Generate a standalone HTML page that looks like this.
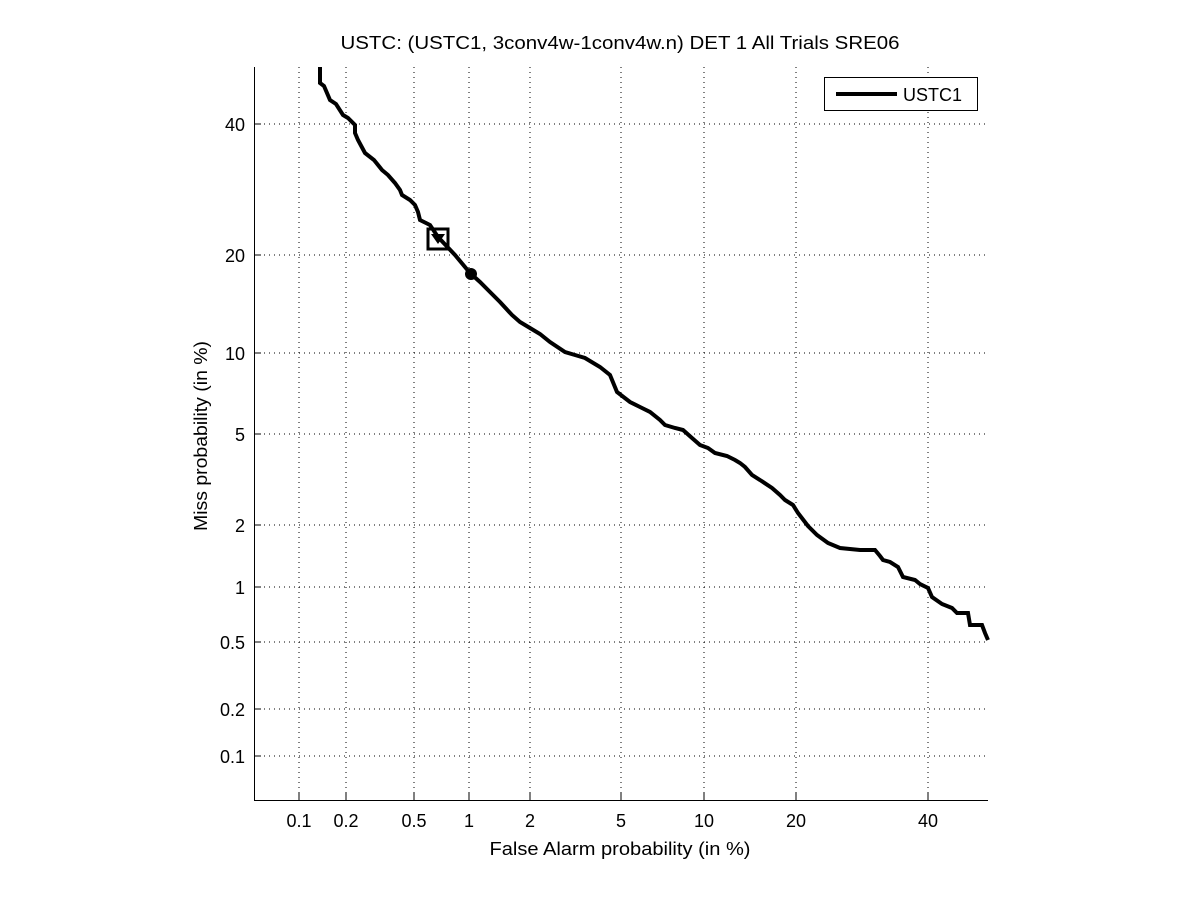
<!DOCTYPE html>
<html><head><meta charset="utf-8"><style>body{margin:0;background:#fff}svg{display:block}</style></head><body>
<svg width="1201" height="900" xmlns="http://www.w3.org/2000/svg" font-family="Liberation Sans, sans-serif">
<rect width="1201" height="900" fill="#fff"/>
<g stroke="#000" stroke-width="1" stroke-dasharray="1,4">
<line x1="299" y1="67" x2="299" y2="801"/><line x1="346" y1="67" x2="346" y2="801"/><line x1="414" y1="67" x2="414" y2="801"/><line x1="469" y1="67" x2="469" y2="801"/><line x1="530" y1="67" x2="530" y2="801"/><line x1="621" y1="67" x2="621" y2="801"/><line x1="704" y1="67" x2="704" y2="801"/><line x1="796" y1="67" x2="796" y2="801"/><line x1="928" y1="67" x2="928" y2="801"/>
<line x1="254" y1="124" x2="988" y2="124"/><line x1="254" y1="255" x2="988" y2="255"/><line x1="254" y1="353" x2="988" y2="353"/><line x1="254" y1="434" x2="988" y2="434"/><line x1="254" y1="525" x2="988" y2="525"/><line x1="254" y1="587" x2="988" y2="587"/><line x1="254" y1="642" x2="988" y2="642"/><line x1="254" y1="709" x2="988" y2="709"/><line x1="254" y1="756" x2="988" y2="756"/>
</g>
<g stroke="#000" stroke-width="1">
<line x1="254.5" y1="67" x2="254.5" y2="801"/><line x1="254" y1="800.5" x2="988" y2="800.5"/>
<line x1="254" y1="124" x2="261" y2="124"/><line x1="254" y1="255" x2="261" y2="255"/><line x1="254" y1="353" x2="261" y2="353"/><line x1="254" y1="434" x2="261" y2="434"/><line x1="254" y1="525" x2="261" y2="525"/><line x1="254" y1="587" x2="261" y2="587"/><line x1="254" y1="642" x2="261" y2="642"/><line x1="254" y1="709" x2="261" y2="709"/><line x1="254" y1="756" x2="261" y2="756"/>
<line x1="299" y1="800" x2="299" y2="793"/><line x1="346" y1="800" x2="346" y2="793"/><line x1="414" y1="800" x2="414" y2="793"/><line x1="469" y1="800" x2="469" y2="793"/><line x1="530" y1="800" x2="530" y2="793"/><line x1="621" y1="800" x2="621" y2="793"/><line x1="704" y1="800" x2="704" y2="793"/><line x1="796" y1="800" x2="796" y2="793"/><line x1="928" y1="800" x2="928" y2="793"/>
</g>
<g font-size="18" text-anchor="end" fill="#000">
<text x="245" y="131">40</text><text x="245" y="262">20</text><text x="245" y="360">10</text><text x="245" y="441">5</text><text x="245" y="532">2</text><text x="245" y="594">1</text><text x="245" y="649">0.5</text><text x="245" y="716">0.2</text><text x="245" y="763">0.1</text>
</g>
<g font-size="18" text-anchor="middle" fill="#000">
<text x="299" y="827">0.1</text><text x="346" y="827">0.2</text><text x="414" y="827">0.5</text><text x="469" y="827">1</text><text x="530" y="827">2</text><text x="621" y="827">5</text><text x="704" y="827">10</text><text x="796" y="827">20</text><text x="928" y="827">40</text>
<text x="620" y="855" textLength="261" lengthAdjust="spacingAndGlyphs">False Alarm probability (in %)</text>
<text x="620" y="49" textLength="559" lengthAdjust="spacingAndGlyphs">USTC: (USTC1, 3conv4w-1conv4w.n) DET 1 All Trials SRE06</text>
<text transform="translate(207,436) rotate(-90)" textLength="190" lengthAdjust="spacingAndGlyphs">Miss probability (in %)</text>
</g>
<polyline fill="none" stroke="#000" stroke-width="4" stroke-linejoin="miter" points="320,67 320,83 324,86 330,100 336,104 343,115 348,118 355,125 355,133 358,140 365,153 374,160 382,170 388,175 395,183 400,190 402,195 410,200 415,205 418,212 420,220 430,225 438,237 455,255 470,273 480,282 490,292 500,302 512,315 520,322 530,328 540,334 550,342 565,352 575,355 585,358 600,367 610,375 617,392 630,402 640,407 650,412 660,420 665,425 675,428 683,430 692,438 700,445 708,448 715,453 727,456 735,460 740,463 745,467 752,475 760,480 772,488 780,495 785,500 793,505 798,513 808,526 817,535 828,543 840,548 860,550 875,550 880,556 883,560 890,562 898,567 903,577 915,580 920,584 928,588 932,597 942,604 952,608 957,613 968,613 970,625 982,625 985,633 988,640"/>
<rect x="428" y="229" width="20" height="20" fill="none" stroke="#000" stroke-width="3"/>
<polygon points="431,234 445,234 438,244" fill="#000"/>
<circle cx="471" cy="274" r="6" fill="#000"/>
<rect x="824.5" y="77.5" width="153" height="33" fill="#fff" stroke="#000" stroke-width="1"/>
<line x1="836" y1="94" x2="897" y2="94" stroke="#000" stroke-width="4"/>
<text x="903" y="101" font-size="18" fill="#000">USTC1</text>
</svg>
</body></html>
